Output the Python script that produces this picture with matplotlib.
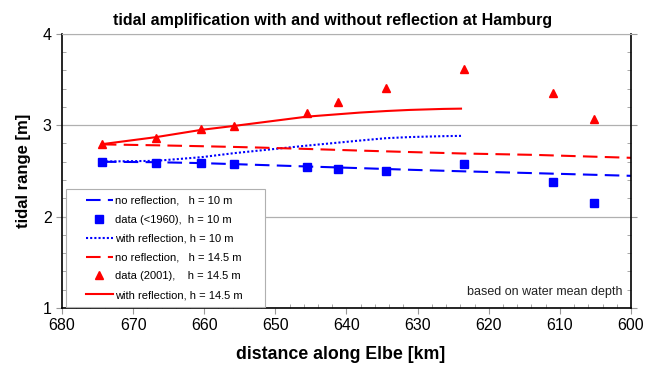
import numpy as np
import matplotlib
matplotlib.use("Agg")
import matplotlib.pyplot as plt
from matplotlib.ticker import MultipleLocator
from matplotlib.lines import Line2D
from matplotlib.legend_handler import HandlerLine2D

plt.rcParams['font.family'] = ['Liberation Sans', 'DejaVu Sans']

# measured data (km along Elbe)
km_data = [674.4, 666.8, 660.4, 655.8, 645.5, 641.2, 634.4, 623.5, 611.0, 605.2]
data_1960 = [2.60, 2.59, 2.59, 2.57, 2.54, 2.52, 2.50, 2.58, 2.38, 2.15]
data_2001 = [2.79, 2.86, 2.96, 2.99, 3.13, 3.255, 3.41, 3.62, 3.355, 3.07]

# model without reflection
km_noref = [674.4, 666.8, 660.4, 655.8, 652.2, 645.5, 638.1, 630.6, 623.5, 613.5, 600.0]
noref_10 = [2.60, 2.595, 2.585, 2.574, 2.565, 2.548, 2.53, 2.511, 2.495, 2.475, 2.446]
noref_145 = [2.79, 2.78, 2.77, 2.762, 2.755, 2.74, 2.722, 2.705, 2.69, 2.675, 2.643]

# model with reflection
km_ref = [674.4, 666.8, 660.4, 655.8, 645.5, 638.1, 634.4, 631.1, 626.4, 623.9]
ref_10 = [2.602, 2.61, 2.65, 2.694, 2.777, 2.832, 2.858, 2.87, 2.88, 2.883]
ref_145 = [2.792, 2.869, 2.949, 2.992, 3.094, 3.138, 3.155, 3.167, 3.178, 3.181]

fig = plt.figure(figsize=(6.56, 3.66), dpi=100)
ax = fig.add_axes([0.0945, 0.1585, 0.8674, 0.7492])

ax.plot(km_noref, noref_10, color="#0000ff", lw=1.5, dashes=(7, 3.5),
        label="no reflection,   h = 10 m")
ax.plot(km_data, data_1960, "s", color="#0000ff", ms=6, ls="none",
        label="data (<1960),  h = 10 m")
ax.plot(km_ref, ref_10, color="#0000ff", lw=1.5, ls=(0, (1, 1)),
        label="with reflection, h = 10 m")
ax.plot(km_noref, noref_145, color="#ff0000", lw=1.5, dashes=(7, 3.5),
        label="no reflection,   h = 14.5 m")
ax.plot(km_data, data_2001, "^", color="#ff0000", ms=5.5, ls="none",
        label="data (2001),    h = 14.5 m")
ax.plot(km_ref, ref_145, color="#ff0000", lw=1.5,
        label="with reflection, h = 14.5 m")

ax.set_xlim(680, 600)
ax.set_ylim(1, 4)
ax.xaxis.set_major_locator(MultipleLocator(10))
ax.xaxis.set_minor_locator(MultipleLocator(2))
ax.yaxis.set_major_locator(MultipleLocator(1))
ax.yaxis.set_minor_locator(MultipleLocator(0.2))
ax.tick_params(which="major", direction="out", length=4, labelsize=11.5,
               right=True, color="#999999")
ax.tick_params(which="minor", direction="in", length=3, right=True, color="#999999")
ax.grid(axis="y", which="major", color="#b0b0b0", lw=0.9)
ax.set_axisbelow(True)
ax.spines["top"].set_color("#b0b0b0")
for s in ["left", "right", "bottom"]:
    ax.spines[s].set_linewidth(1.2)

fig.text(0.507, 1 - 20 / 366, "tidal amplification with and without reflection at Hamburg",
         ha="center", va="center", fontsize=11.5, fontweight="bold")
ax.set_xlabel("distance along Elbe [km]", fontsize=12.8, fontweight="bold", labelpad=9)
ax.xaxis.set_label_coords(0.489, -0.14)
ax.set_ylabel("tidal range [m]", fontsize=12, fontweight="bold", labelpad=8)

hl = HandlerLine2D(xpad=1.2)
leg = ax.legend(loc="lower left", fontsize=8, frameon=True, fancybox=False,
                edgecolor="#b0b0b0", framealpha=1, handlelength=3.65,
                borderpad=0.6, labelspacing=0.8, handletextpad=0.2,
                bbox_to_anchor=(0.0065, 0.004, 0.35, 0.4), mode="expand",
                borderaxespad=0, handler_map={Line2D: hl})
leg.get_frame().set_linewidth(0.8)

ax.text(0.985, 0.058, "based on water mean depth", transform=ax.transAxes,
        ha="right", va="center", fontsize=9, color="#222222")

fig.savefig("out.png", dpi=100)
